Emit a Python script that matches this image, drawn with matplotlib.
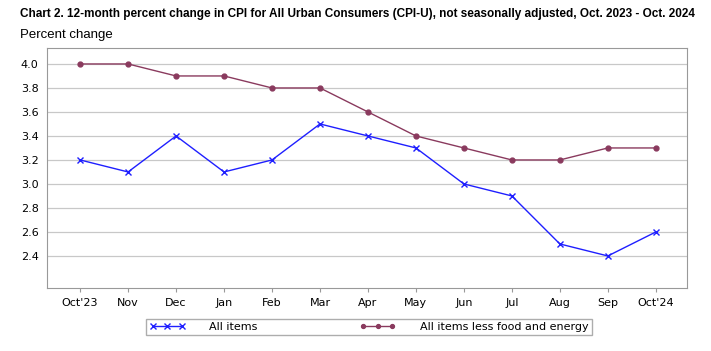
import numpy as np
import matplotlib.pyplot as plt

months = ["Oct'23", "Nov", "Dec", "Jan", "Feb", "Mar", "Apr", "May",
          "Jun", "Jul", "Aug", "Sep", "Oct'24"]
all_items = [3.2, 3.1, 3.4, 3.1, 3.2, 3.5, 3.4, 3.3, 3.0, 2.9, 2.5, 2.4, 2.6]
core = [4.0, 4.0, 3.9, 3.9, 3.8, 3.8, 3.6, 3.4, 3.3, 3.2, 3.2, 3.3, 3.3]
yticks = [2.4, 2.6, 2.8, 3.0, 3.2, 3.4, 3.6, 3.8, 4.0]

plt.rcParams['font.family'] = ['Liberation Sans', 'DejaVu Sans']

fig = plt.figure(figsize=(7.11, 3.51), dpi=100)
ax = fig.add_axes([47/711, 1 - 288/351, 640/711, 240/351])

x = np.arange(len(months))
ax.plot(x, all_items, color='#1f1fff', lw=1, marker='x', ms=5, mew=1,
        label="All items")
ax.plot(x, core, color='#8a3a5e', lw=1, marker='o', ms=3.5,
        label="All items less food and energy")

ax.set_xlim(-0.69, 12.65)
ax.set_ylim(2.133, 4.133)
ax.set_yticks(yticks)
ax.set_yticklabels([f"{v:.1f}" for v in yticks], family='DejaVu Sans', fontsize=8)
ax.set_xticks(x)
ax.set_xticklabels(months, family='DejaVu Sans', fontsize=8)
ax.tick_params(axis='y', length=0, pad=6)
ax.tick_params(axis='x', length=3, color='#999999', pad=4)
ax.grid(axis='y', color='#c8c8c8', lw=0.9)
ax.set_axisbelow(True)
for s in ax.spines.values():
    s.set_color('#999999')

title = fig.text(20/711, 1 - 14/351, "Chart 2. 12-month percent change in CPI for All Urban Consumers (CPI-U), "
                 "not seasonally adjusted, Oct. 2023 - Oct. 2024",
                 fontsize=10, fontweight='bold', va='center')
# shrink title so it fits about the same width as the reference
fig.canvas.draw()
w = title.get_window_extent().width
title.set_fontsize(10 * 675 / w)
fig.text(20/711, 1 - 35/351, "Percent change", fontsize=9.5, va='center')

leg = fig.legend(loc='center', bbox_to_anchor=(369/711, 1 - 327/351), ncol=2,
                 frameon=True, fancybox=False, prop={'family': 'DejaVu Sans', 'size': 8},
                 columnspacing=9.2, handlelength=3.2, handletextpad=2.2, numpoints=3,
                 markerscale=0.8, borderpad=0.3, borderaxespad=0)
leg.get_frame().set_edgecolor('#999999')
leg.get_frame().set_linewidth(1)

plt.savefig('out.png', dpi=100)
